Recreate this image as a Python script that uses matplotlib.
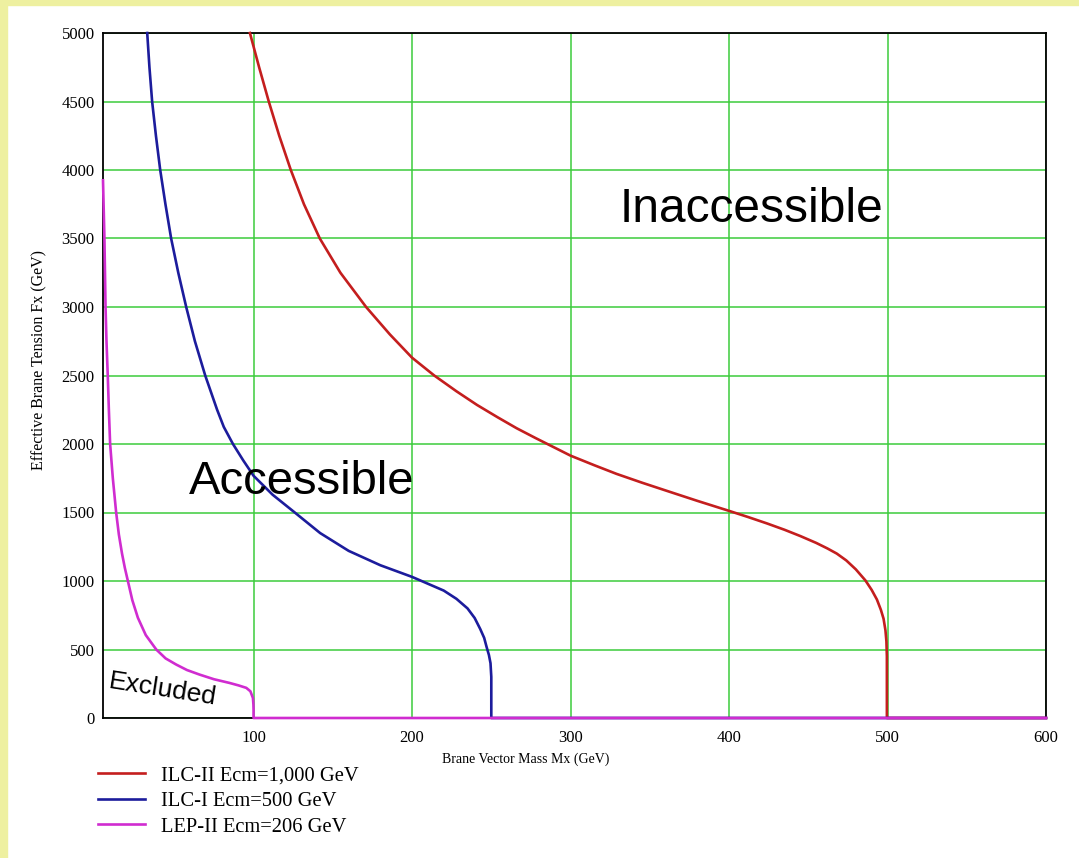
import matplotlib
matplotlib.use("Agg")
import matplotlib.pyplot as plt
from matplotlib.patches import Rectangle

# ---------- Data ----------
ilc2_mx = [97.7, 103.5, 109.6, 116.2, 123.5, 131.8, 141.8, 154.8, 171, 186, 200, 214, 228,
           241, 254, 266, 278, 300, 315, 329, 345, 361, 380, 400, 412, 424, 435, 445,
           455, 462, 468, 474, 480, 486, 490, 493.3, 495.8, 497.5, 498.7, 499.3, 499.6,
           499.6, 600]
ilc2_fx = [5000, 4750, 4500, 4250, 4000, 3750, 3500, 3250, 3000, 2800, 2630, 2500, 2385,
           2285, 2195, 2115, 2043, 1915, 1845, 1782, 1718, 1657, 1585, 1512, 1467, 1420,
           1374, 1328, 1278, 1238, 1200, 1150, 1085, 1005, 935, 865, 790, 725, 640, 560,
           450, 0, 0]

ilc1_mx = [32.9, 34.3, 36, 38.4, 41.1, 44.4, 48, 52.5, 57.5, 63, 69.5, 77, 81.2, 87,
           93.5, 100, 112, 126, 142, 160, 180, 200, 210, 220, 228, 235, 239.5, 243,
           245.5, 247, 248.5, 249.5, 250, 250, 600]
ilc1_fx = [5000, 4750, 4500, 4250, 4000, 3750, 3500, 3250, 3000, 2750, 2500, 2250, 2125,
           2000, 1880, 1768, 1630, 1500, 1350, 1220, 1115, 1030, 980, 930, 870, 800, 730,
           650, 585, 520, 460, 400, 300, 0, 0]

lep2_mx = [5.0, 5.9, 6.6, 7.2, 8.0, 8.7, 9.5, 11.2, 13.3, 15.0, 17.0, 18.8, 20.7, 23.5,
           27.0, 32.0, 38.6, 44.5, 51.2, 58.0, 65.9, 75.0, 84.8, 90.5, 95.4, 98.0, 99.6,
           99.9, 100, 100, 600]
lep2_fx = [3925, 3500, 3000, 2750, 2500, 2250, 2000, 1750, 1500, 1340, 1200, 1095, 1000,
           860, 732, 605, 500, 435, 390, 350, 317, 283, 256, 238, 220, 195, 146, 100, 60,
           0, 0]

labels = ["ILC-II Ecm=1,000 GeV", "ILC-I Ecm=500 GeV", "LEP-II Ecm=206 GeV"]
xticks = [100, 200, 300, 400, 500, 600]
yticks = list(range(0, 5001, 500))

# ---------- Figure ----------
W, H = 1079, 858
fig = plt.figure(figsize=(W / 100, H / 100), dpi=100)
fig.patch.set_facecolor("white")

# yellow frame on the left and top edge
border = "#eef0a0"
fig.patches.append(Rectangle((0, 0), 7 / W, 1, transform=fig.transFigure,
                             color=border, zorder=0))
fig.patches.append(Rectangle((0, 1 - 5 / H), 1, 5 / H, transform=fig.transFigure,
                             color=border, zorder=0))

ax = fig.add_axes([103 / W, 1 - 718 / H, (1046 - 103) / W, (718 - 33) / H])

serif = "Liberation Serif"
sans = "Liberation Sans"

ax.plot(ilc2_mx, ilc2_fx, color="#c41e1e", lw=1.9, label=labels[0], clip_on=False, zorder=3)
ax.plot(ilc1_mx, ilc1_fx, color="#1c1c9c", lw=1.9, label=labels[1], clip_on=False, zorder=4)
ax.plot(lep2_mx, lep2_fx, color="#d02cd0", lw=1.9, label=labels[2], clip_on=False, zorder=5)

ax.set_xlim(5, 600)
ax.set_ylim(0, 5000)
ax.set_xticks(xticks)
ax.set_yticks(yticks)
ax.grid(True, color="#3ccc3c", lw=1.1)
ax.set_axisbelow(True)
ax.tick_params(length=0, labelsize=12)
ax.tick_params(axis="x", pad=9)
ax.tick_params(axis="y", pad=6)
for lab in ax.get_xticklabels() + ax.get_yticklabels():
    lab.set_fontfamily(serif)
for sp in ax.spines.values():
    sp.set_color("black")
    sp.set_linewidth(1.3)
    sp.set_zorder(2)

ax.set_xlabel("Brane Vector Mass Mx (GeV)", fontsize=10, family=serif)
ax.xaxis.set_label_coords((526 - 103) / 943, -0.05)
ax.set_ylabel("Effective Brane Tension Fx (GeV)", fontsize=11.5, family=serif)
ax.yaxis.set_label_coords(-0.059, 0.523)

# region annotations
ax.text(331, 3620, "Inaccessible", fontsize=34.5, family=sans, ha="left", va="baseline", zorder=6)
ax.text(59, 1635, "Accessible", fontsize=34, family=sans, ha="left", va="baseline", zorder=6)
ax.text(8.2, 222, "Excluded", fontsize=19, family=sans, ha="left", va="baseline",
        rotation=-9, rotation_mode="anchor", zorder=6)

fig.legend(*ax.get_legend_handles_labels(), loc="upper left",
           bbox_to_anchor=(98 / W, 1 - 766 / H), frameon=False,
           prop={"family": serif, "size": 14.8}, handlelength=2.3,
           handletextpad=0.75, labelspacing=0.3, borderpad=0, borderaxespad=0)

fig.savefig("out.png", dpi=100)
